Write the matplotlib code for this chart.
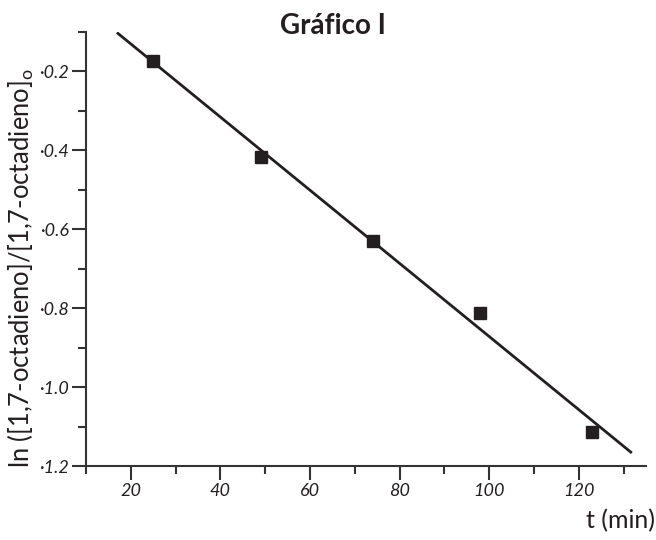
import matplotlib
matplotlib.use("Agg")
import matplotlib.pyplot as plt
from matplotlib.ticker import MultipleLocator, FuncFormatter
import numpy as np

# Datos
t_min = [25, 49, 74, 98, 123]
ln_ratio = [-0.175, -0.417, -0.629, -0.812, -1.113]
linea_t = [16.9, 131.8]

plt.rcParams['font.family'] = ['Lato', 'DejaVu Sans']
color = "#231f20"

fig = plt.figure(figsize=(6.56, 5.4), dpi=100)
ax = fig.add_axes([0.131, 0.137, 0.854, 0.804])

# Recta de ajuste
pend, inter = np.polyfit(t_min, ln_ratio, 1)
tx = np.array(linea_t)
ax.plot(tx, pend * tx + inter, color=color, lw=2.0, solid_capstyle='butt')
ax.plot(t_min, ln_ratio, 's', color=color, ms=8)

ax.set_xlim(10, 135)
ax.set_ylim(-1.2, -0.1)
ax.xaxis.set_minor_locator(MultipleLocator(10))
ax.yaxis.set_major_locator(MultipleLocator(0.2))
ax.yaxis.set_minor_locator(MultipleLocator(0.1))
ax.set_xticks([20, 40, 60, 80, 100, 120])
ax.xaxis.set_major_formatter(FuncFormatter(lambda v, p: f"{v:.0f}"))
ax.yaxis.set_major_formatter(FuncFormatter(lambda v, p: f"·{abs(v):.1f}"))

for s in ['top', 'right']:
    ax.spines[s].set_visible(False)
for s in ['left', 'bottom']:
    ax.spines[s].set_linewidth(1.5)
    ax.spines[s].set_color("#333333")

ax.tick_params(which='major', length=10, width=1.5, color="#333333",
               labelsize=13, labelcolor=color, pad=2)
ax.tick_params(which='minor', length=6, width=1.5, color="#333333")
for lab in ax.get_xticklabels() + ax.get_yticklabels():
    lab.set_fontstyle('italic')

ylab = fig.text(21 / 656, 1 - 268 / 540,
                "ln ([1,7-octadieno]/[1,7-octadieno]$_\\mathregular{o}$",
                rotation=90, ha='center', va='center', fontsize=16.5, color=color)
# ajustar el rótulo vertical para que ocupe de y=68 a y=468 px
r = fig.canvas.get_renderer()
bb = ylab.get_window_extent(r)
ylab.set_fontsize(16.5 * 400 / bb.height)
bb = ylab.get_window_extent(r)
centro = (bb.y0 + bb.y1) / 2
x, y = ylab.get_position()
ylab.set_position((x, y + ((540 - 268) - centro) / 540))

fig.text(655 / 656, 1 - 521 / 540, "t (min)", ha='right', va='center',
         fontsize=18, color=color)
fig.text(333 / 656, 1 - 26 / 540, "Gráfico I", ha='center', va='center',
         fontsize=20, fontweight='bold', color=color)

fig.savefig("out.png", dpi=100)
